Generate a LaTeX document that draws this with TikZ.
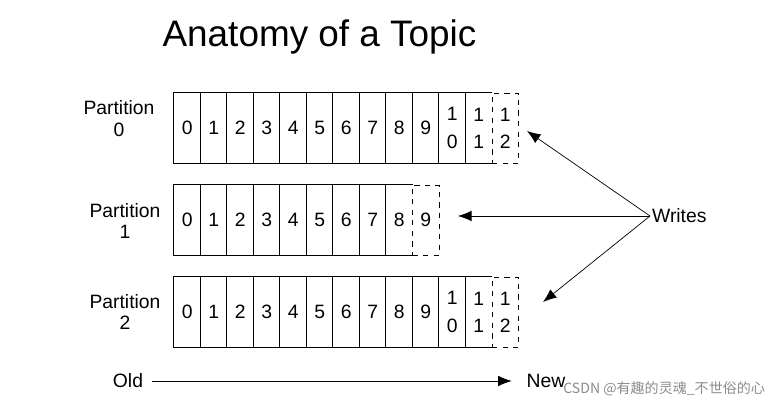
\documentclass[tikz,border=0pt]{standalone}
\usepackage{fontspec}
\setmainfont{Liberation Sans}
\newfontfamily\cjk{Noto Sans CJK SC}
\usetikzlibrary{arrows.meta,positioning}
\tikzset{
    line width=0.8pt,
    cell/.style ={rectangle, minimum width=0.53cm, minimum height=1.4cm, inner sep=0pt,
                  align=center, font=\fontsize{11}{15.5}\selectfont},
    newcell/.style ={cell, draw, dashed},
    part/.style = {align=center, font=\fontsize{11}{12.5}\selectfont},
    lbl/.style = {font=\fontsize{11}{13}\selectfont},
    wr/.style = {-{Latex[length=0.27cm,width=0.21cm]}}
}

\begin{document}
\begin{tikzpicture}[x=0.02cm,y=-0.02cm]
    \useasboundingbox (0,0) rectangle (775,408);
    \node[font=\fontsize{21}{24}\selectfont] (title) at (319.5,37) {Anatomy of a Topic};

    % partition 0
    \node[part] (p0) at (119,119) {Partition\\0};
    \foreach \t [count=\i from 0] in {0,1,2,3,4,5,6,7,8,9,{1\\0},{1\\1}}
        \node[cell] (a\i) at ({187.25+26.5*\i},128) {\t};
    \node[newcell] (a12) at ({187.25+26.5*12},128) {1\\2};
    \draw (a11.north east) -- (a0.north west) -- (a0.south west) -- (a11.south east);
    \foreach \i in {1,...,11} \draw (a\i.north west) -- (a\i.south west);

    % partition 1
    \node[part] (p1) at (125,221) {Partition\\1};
    \foreach \i in {0,...,8}
        \node[cell] (b\i) at ({187.25+26.5*\i},220) {\i};
    \node[newcell] (b9) at ({187.25+26.5*9},220) {9};
    \draw (b8.north east) -- (b0.north west) -- (b0.south west) -- (b8.south east);
    \foreach \i in {1,...,8} \draw (b\i.north west) -- (b\i.south west);

    % partition 2
    \node[part] (p2) at (125,312) {Partition\\2};
    \foreach \t [count=\i from 0] in {0,1,2,3,4,5,6,7,8,9,{1\\0},{1\\1}}
        \node[cell] (c\i) at ({187.25+26.5*\i},312) {\t};
    \node[newcell] (c12) at ({187.25+26.5*12},312) {1\\2};
    \draw (c11.north east) -- (c0.north west) -- (c0.south west) -- (c11.south east);
    \foreach \i in {1,...,11} \draw (c\i.north west) -- (c\i.south west);

    % writes
    \node[lbl, anchor=west, inner sep=1pt] (w) at (650,216) {Writes};
    \coordinate (t0) at (527,131);
    \coordinate (t1) at (458,216);
    \coordinate (t2) at (543,302);
    \path[wr] (w.west) edge (t0);
    \path[wr] (w.west) edge (t1);
    \path[wr] (w.west) edge (t2);

    % old -> new
    \node[lbl] (old) at (128,381) {Old};
    \node[lbl] (new) at (546,381) {New};
    \draw[wr, shorten <=1.5pt, shorten >=5pt] (old) -- (new);

    \node[anchor=west, inner sep=0pt, text=black!45, font=\cjk\fontsize{8}{9}\selectfont] (wm) at (563,389) {CSDN @有趣的灵魂\_不世俗的心};
\end{tikzpicture}
\end{document}
